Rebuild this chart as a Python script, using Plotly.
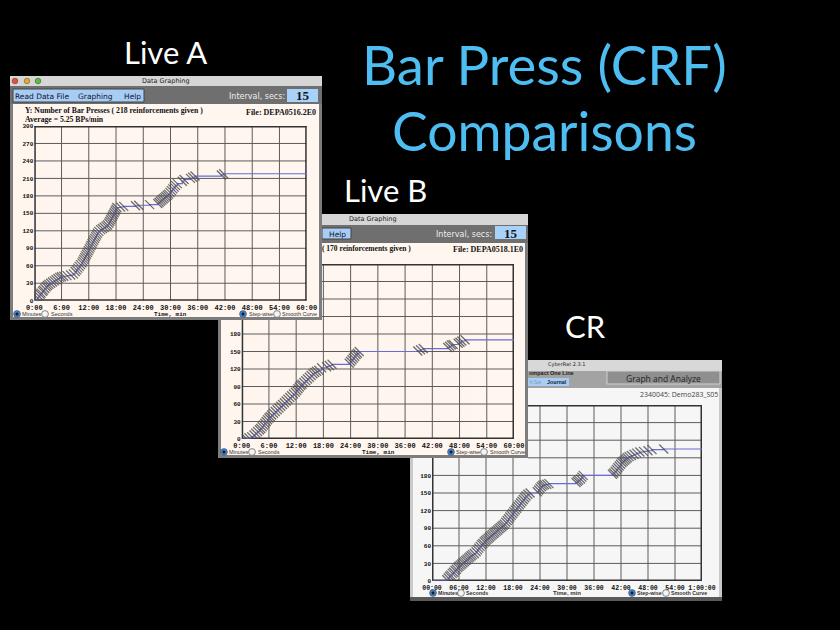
import plotly.graph_objects as go

W, H = 840, 630

# ---- data ----
TICK_MIN = [0, 6, 12, 18, 24, 30, 36, 42, 48, 54, 60]
LABELS_LIVE = ["0:00", "6:00", "12:00", "18:00", "24:00", "30:00", "36:00", "42:00", "48:00", "54:00", "60:00"]
LABELS_CR = ["00:00", "06:00", "12:00", "18:00", "24:00", "30:00", "36:00", "42:00", "48:00", "54:00", "1:00:00"]
Y_TICKS_A = [0, 30, 60, 90, 120, 150, 180, 210, 240, 270, 300]
Y_TICKS_VISIBLE = [0, 30, 60, 90, 120, 150, 180]
Y_GRID = [30, 60, 90, 120, 150, 180, 210, 240, 270]
X_GRID = [6, 12, 18, 24, 30, 36, 42, 48, 54]

A_T = [0.4,0.7,1.0,1.3,1.5,1.8,2.0,2.3,2.6,2.9,3.2,3.6,4.0,4.4,4.8,5.2,5.6,6.0,6.5,7.2,8.0,8.6,9.0,9.3,9.6,9.9,
       10.2,10.5,10.7,10.9,11.1,11.3,11.5,11.7,11.9,12.1,12.3,12.5,12.7,12.9,13.1,13.3,13.5,13.7,13.9,14.2,14.6,
       15.0,15.4,15.8,16.1,16.4,16.6,16.8,17.0,17.2,17.4,17.6,17.8,18.0,18.2,19.0,19.7,22.3,23.0,25.4,27.2,
       27.5,27.8,28.1,28.4,28.7,29.0,29.3,29.6,29.9,30.2,30.5,30.8,31.1,31.5,32.6,33.0,34.4,34.9,35.4,41.2,41.7]
A_N = [2,5,8,11,13,16,18,21,24,26,28,30,32,34,36,38,40,41,42,43,44,46,50,53,56,59,
       62,65,68,71,74,77,80,83,86,89,92,95,98,101,104,107,110,113,116,119,122,
       124,126,128,130,133,136,139,142,145,148,151,154,157,160,161,162,163,164,165,167,
       169,171,173,175,177,179,181,183,186,189,192,195,198,201,205,208,210,212,214,216,218]

B_T = [1.0,1.6,2.2,2.7,3.1,3.5,3.9,4.2,4.5,4.8,5.1,5.4,5.7,6.0,6.3,6.6,7.0,7.4,7.8,8.2,8.6,9.0,9.4,9.8,10.2,
       10.6,11.0,11.4,11.8,12.1,12.4,12.7,13.0,13.3,13.7,14.1,14.5,14.9,15.3,15.7,16.1,16.5,17.0,17.6,18.7,
       19.3,19.9,23.7,24.0,24.3,24.6,24.9,25.2,25.5,25.9,38.8,39.4,40.0,45.4,45.8,46.2,46.6,47.7,48.1,48.5,49.2]
B_N = [1,2,4,7,10,13,16,18,21,24,27,30,33,36,38,41,44,47,50,53,56,59,62,65,68,
       71,74,77,80,83,86,89,92,94,97,100,103,106,109,112,114,116,118,122,124,
       126,128,130,133,136,139,142,145,147,150,151,153,155,157,159,161,162,164,166,168,170]

C_T = [3.3,3.6,3.9,4.2,4.5,4.8,5.1,5.4,5.7,6.0,6.3,6.6,6.9,7.2,7.5,7.8,8.1,8.4,8.7,9.0,9.4,9.8,10.1,10.4,10.7,
       11.0,11.3,11.6,11.9,12.2,12.5,12.8,13.1,13.4,13.7,14.0,14.3,14.6,14.9,15.2,15.5,15.8,16.1,16.4,16.7,
       17.0,17.3,17.6,17.9,18.2,18.5,18.8,19.1,19.4,19.7,20.0,20.3,20.6,20.9,21.3,21.8,23.4,23.7,24.0,24.3,
       24.6,25.0,25.5,26.0,32.0,32.3,32.6,33.0,33.3,33.6,40.1,40.4,40.7,41.0,41.3,41.6,41.9,42.2,42.5,42.8,
       43.1,43.4,43.8,44.3,44.9,45.5,46.2,47.0,48.0,48.9,51.5]
C_N = [2,5,8,10,13,15,18,20,23,25,27,29,31,33,35,37,39,41,43,45,47,50,53,56,59,
       62,64,67,69,71,73,75,77,79,81,83,85,87,89,91,93,95,97,100,103,
       106,109,112,115,118,121,124,127,130,133,136,139,142,145,148,150,152,155,158,161,
       163,164,165,166,168,170,172,174,177,180,182,184,187,190,193,196,199,202,204,206,
       208,210,212,214,216,218,220,221,222,224,225]

# ---- colours / fonts ----
BLACK = "#000000"
TITLE_BLUE = "#4dbdf2"
PEACH = "#fff6ef"
FRAME_GREY = "#7d7d7d"
TOOL_GREY = "#6f6f6f"
BAR_LIGHT = "#d6d6d6"
BTN_BLUE = "#a8cdf4"
BOX_BLUE = "#a9d2fb"
GRID = "#5c5c5c"
LINE_BLUE = "#6a6ad8"
MARK = "#4a4a4a"
SANS = "Lato"
COMIC = "DejaVu Sans"
ARIAL = "Liberation Sans"
OPEN = "Open Sans"
SERIF = "Liberation Serif"
MONO = "Liberation Mono"


def px(x):
    return x / W


def py(y):
    return 1 - y / H


shapes = []
annotations = []


def rect(x0, y0, x1, y1, fill, line=None, layer="below"):
    shapes.append(dict(type="rect", xref="paper", yref="paper", layer=layer,
                       x0=px(x0), x1=px(x1), y0=py(y1), y1=py(y0), fillcolor=fill,
                       line=dict(color=line or fill, width=1 if line else 0)))


def circle(cx, cy, r, fill, line="#555555", layer="above"):
    shapes.append(dict(type="circle", xref="paper", yref="paper", layer=layer,
                       x0=px(cx - r), x1=px(cx + r), y0=py(cy + r), y1=py(cy - r),
                       fillcolor=fill, line=dict(color=line, width=0.7)))


def text(x, y, s, size, color="#111111", family=COMIC, anchor="center", bold=False):
    # placed on a full-canvas helper axis, so the text never pushes the page margins
    annotations.append(dict(x=x, y=y, xref="x4", yref="y4", text=s, showarrow=False, borderpad=0, borderwidth=0,
                            xanchor=anchor, yanchor="middle", align=anchor,
                            font=dict(size=size, color=color, family=family, weight=700 if bold else 400)))


def radio(cx, cy, on, label, lx, size=5.5, bold=False):
    if on:
        circle(cx, cy, 3.4, "#3f86d8")
        circle(cx, cy, 1.2, "#10203a", line="#10203a")
    else:
        circle(cx, cy, 3.4, "#f4f4f4")
    text(lx, cy, label, size, "#333333", ARIAL, "left", bold)


# -- window C (back) --
rect(410, 360, 722, 601, "#c9c9c9")
rect(410, 360, 722, 371, "#d8d8d8")
rect(410, 371, 722, 388, "#a3a3a3")
rect(413, 388, 719, 597, "#f6f6f6")
rect(410, 597, 722, 601, "#5a5a5a")
rect(607, 371, 720, 384, "#8f8f8f", "#d0d0d0")
rect(528, 378, 569, 386, "#a9cdf2")
text(566, 364, "CyberRat 2.3.1", 5, "#222222")
text(529, 373, "ompact One Line", 5.5, "#222222", ARIAL, "left", True)
text(536, 382, "h Set", 4.8, "#7d97b5", ARIAL)
text(557, 382, "Journal", 5.3, "#10203a", ARIAL, "center", True)
text(663, 378, "Graph and Analyze", 8.5, "#222222", OPEN)
text(718, 394, "2340045: Demo283_S05", 7, "#444444", OPEN, "right")
text(567, 593, "Time, min", 6, "#333333", ARIAL, "center", True)
radio(433, 593, True, "Minutes", 437.5, 5.3, True)
radio(461, 593, False, "Seconds", 466, 5.3, True)
radio(632, 593, True, "Step-wise", 637, 5.3, True)
radio(666, 593, False, "Smooth Curve", 671, 5.3, True)

# -- window B (middle) --
rect(218, 214, 528, 458, FRAME_GREY)
rect(218, 214, 528, 225, BAR_LIGHT)
rect(218, 225, 528, 243, TOOL_GREY)
rect(221, 243, 525, 455, PEACH)
rect(322, 228, 351, 239, BTN_BLUE, "#444444")
rect(495, 226, 526, 239, BOX_BLUE)
text(373, 219, "Data Graphing", 6.5, "#222222")
text(337, 234, "Help", 7.5, "#111133")
text(492, 234, "Interval, secs:", 8, "#eeeeee", COMIC, "right")
text(510.5, 233, "15", 13, "#111111", SERIF, "center", True)
text(322, 248, "( 170 reinforcements given )", 7.5, "#111111", SERIF, "left", True)
text(523, 249, "File: DEPA0518.1E0", 8, "#111111", SERIF, "right", True)
text(378, 452, "Time, min", 6, "#111111", MONO, "center", True)
radio(224, 452, True, "Minutes", 229)
radio(252, 452, False, "Seconds", 258)
radio(451, 452, True, "Step-wise", 456)
radio(484, 452, False, "Smooth Curve", 490)

# -- window A (front) --
rect(10, 76, 322, 320, FRAME_GREY)
rect(10, 76, 322, 86, BAR_LIGHT)
rect(10, 86, 322, 104, TOOL_GREY)
rect(13, 104, 319, 317, PEACH)
rect(13, 89, 144, 102, BTN_BLUE, "#444444")
rect(287, 89, 318, 102, BOX_BLUE)
circle(15, 81, 2.8, "#e0534a", line="#8a3a30", layer="below")
circle(27, 81, 2.8, "#e0a83c", line="#8a6a20", layer="below")
circle(38, 81, 2.8, "#5fb84a", line="#3a7a30", layer="below")
text(166, 81, "Data Graphing", 6.5, "#222222")
text(42, 96, "Read Data File", 7.5, "#111133")
text(95, 96, "Graphing", 7.5, "#111133")
text(132, 96, "Help", 7.5, "#111133")
text(285, 96, "Interval, secs:", 8, "#eeeeee", COMIC, "right")
text(302.5, 95, "15", 13, "#111111", SERIF, "center", True)
text(25, 110, "Y: Number of Bar Presses ( 218 reinforcements given )", 7.7, "#111111", SERIF, "left", True)
text(25, 119, "Average = 5.25 BPs/min", 7.7, "#111111", SERIF, "left", True)
text(316, 112, "File: DEPA0516.2E0", 8, "#111111", SERIF, "right", True)
text(170, 314, "Time, min", 6, "#111111", MONO, "center", True)
radio(17, 314, True, "Minutes", 22)
radio(45, 314, False, "Seconds", 51)
radio(243, 314, True, "Step-wise", 249)
radio(277, 314, False, "Smooth Curve", 282)

# -- slide titles --
text(544, 64, "Bar Press (CRF)", 54.5, TITLE_BLUE, SANS)
text(544.5, 130, "Comparisons", 53.5, TITLE_BLUE, SANS)
text(165.5, 52, "Live A", 31, "#ffffff", SANS)
text(385, 190, "Live B", 31, "#ffffff", SANS)
text(585, 326, "CR", 31, "#ffffff", SANS)

fig = go.Figure()


def series(sub, t, n, end_n):
    xa, ya = ("x" + sub), ("y" + sub)
    fig.add_trace(go.Scatter(x=[0] + t + [60], y=[0] + n + [end_n], mode="lines", xaxis=xa, yaxis=ya,
                             line=dict(color=LINE_BLUE, width=1.1, shape="hv"), showlegend=False, hoverinfo="skip"))
    fig.add_trace(go.Scatter(x=t, y=n, mode="markers", xaxis=xa, yaxis=ya, opacity=0.8,
                             marker=dict(symbol="line-nw", size=9, line=dict(color=MARK, width=1.3)),
                             showlegend=False, hoverinfo="skip"))


# subplot order sets the stacking: C is first (back), A last (front)
series("", C_T, C_N, C_N[-1])
series("2", B_T, B_N, B_N[-1])
series("3", A_T, A_N, A_N[-1])
fig.add_trace(go.Scatter(x=[], y=[], xaxis="x4", yaxis="y4", showlegend=False, hoverinfo="skip"))


def axes(box, labels, yticks, sizex=7):
    x0, y0, x1, y1 = box
    xa = dict(domain=[px(x0), px(x1)], range=[0, 60], tickmode="array", tickvals=TICK_MIN, ticktext=labels,
              showgrid=False, zeroline=False, showline=False, ticks="", ticklen=0, automargin=False,
              ticklabelstandoff=1, tickangle=0, tickfont=dict(family=MONO, size=sizex, color="#111111", weight=700))
    ya = dict(domain=[py(y1), py(y0)], range=[0, 300], tickmode="array", tickvals=yticks,
              showgrid=False, zeroline=False, showline=False, ticks="", automargin=False,
              ticksuffix="\u00a0", tickfont=dict(family=MONO, size=6, color="#111111", weight=700))
    return xa, ya


def grid(sub, hidden_x=0, hidden_y=300):
    """Grid and frame of a plot, left out where the window in front covers it
    (time below hidden_x and count above hidden_y)."""
    xr, yr = "x" + sub, "y" + sub

    def seg(x0, x1, y0, y1, color=GRID, width=1):
        shapes.append(dict(type="line", xref=xr, yref=yr, layer="between", x0=x0, x1=x1, y0=y0, y1=y1,
                           line=dict(color=color, width=width)))

    for v in Y_GRID:
        seg(hidden_x if v > hidden_y else 0, 60, v, v)
    for v in X_GRID:
        seg(v, v, 0, hidden_y if v < hidden_x else 300)
    dark = "#333333"
    seg(0, 60, 0, 0, dark, 3)
    seg(60, 60, 0, 300, dark, 3)
    seg(hidden_x, 60, 300, 300, dark, 3)
    seg(0, 0, 0, hidden_y, dark, 3)


xa3, ya3 = axes((34.3, 126, 306.7, 300.7), LABELS_LIVE, Y_TICKS_A)
xa2, ya2 = axes((241.7, 264, 514, 439), LABELS_LIVE, Y_TICKS_VISIBLE)
xa1, ya1 = axes((432, 405, 702, 581), LABELS_CR, Y_TICKS_VISIBLE, 6.5)
grid("", 21.33, 209.6)
grid("2", 17.69, 204)
grid("3")

fig.update_layout(width=W, height=H, margin=dict(l=0, r=0, t=0, b=0, pad=0), autosize=False,
                  paper_bgcolor=BLACK, plot_bgcolor="rgba(0,0,0,0)", showlegend=False,
                  shapes=shapes, annotations=annotations,
                  xaxis=dict(xa1, anchor="y"), yaxis=dict(ya1, anchor="x"),
                  xaxis2=dict(xa2, anchor="y2"), yaxis2=dict(ya2, anchor="x2"),
                  xaxis3=dict(xa3, anchor="y3"), yaxis3=dict(ya3, anchor="x3"),
                  xaxis4=dict(domain=[0, 1], range=[0, W], visible=False, anchor="y4", fixedrange=True),
                  yaxis4=dict(domain=[0, 1], range=[H, 0], visible=False, anchor="x4", fixedrange=True))

fig.write_html("out.html", config={"displayModeBar": False},
               post_script="document.body.style.margin='0';document.body.style.background='black';document.documentElement.style.overflow='hidden';")
